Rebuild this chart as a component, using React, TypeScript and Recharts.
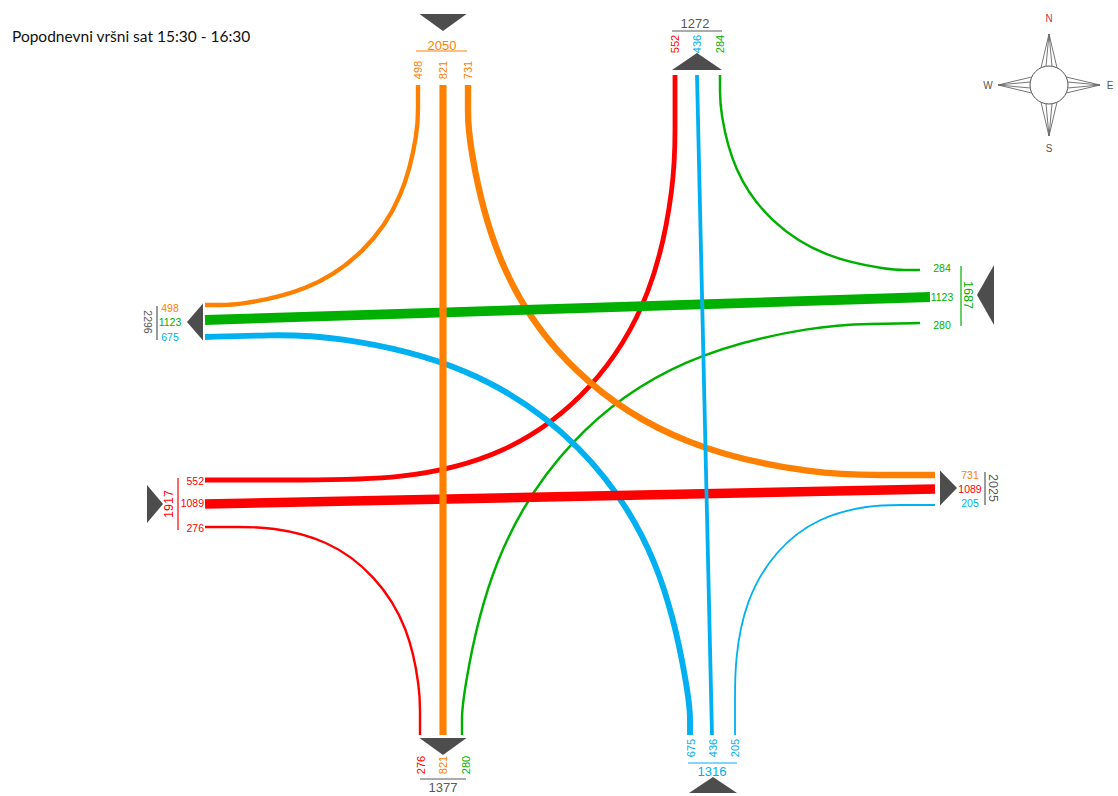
import { ComposedChart, Line, Scatter, XAxis, YAxis } from 'recharts';

// peak hour volumes per approach, lanes in the order they are drawn
const fromNorth = [498, 821, 731]; // to west, south, east
const fromWest = [552, 1089, 276]; // to north, east, south
const fromEast = [284, 1123, 280]; // to north, west, south
const fromSouth = [675, 436, 205]; // to west, north, east

const title = 'Popodnevni vršni sat 15:30 - 16:30';

const ORANGE = '#ff8000';
const RED = '#ff0000';
const GREEN = '#00b000';
const BLUE = '#00b0f0';
const GREY = '#595959';
const ARROW = '#4d4d4d';

const sum = (a: number[]) => a.reduce((s, v) => s + v, 0);

// control points of each movement (diagram px)
const pathNW = [[418, 85], [418, 110], [418, 130], [404, 197], [365, 254], [307, 292], [238, 305], [220, 305], [205, 305]];
const pathNS = [[443, 85], [443, 735]];
const pathNE = [[468, 85], [468, 110], [468, 140], [495, 268], [571, 377], [685, 449], [820, 475], [880, 475], [935, 475]];
const pathWN = [[205, 480], [300, 480], [400, 480], [505, 457], [594, 392], [654, 295], [675, 180], [675, 130], [675, 75]];
const pathWE = [[205, 504], [935, 489]];
const pathWS = [[205, 527], [240, 527], [270, 527], [327, 539], [376, 575], [409, 628], [420, 690], [420, 710], [420, 735]];
const pathEN = [[920, 270], [905, 270], [890, 270], [825, 258], [770, 223], [733, 171], [720, 110], [720, 90], [720, 75]];
const pathEW = [[930, 297], [205, 320]];
const pathES = [[920, 323], [870, 324], [820, 325], [683, 354], [567, 435], [489, 560], [462, 700], [462, 720], [462, 735]];
const pathSW = [[205, 337], [270, 335], [330, 335], [468, 363], [585, 442], [663, 560], [690, 700], [690, 720], [690, 735]];
const pathSN = [[712, 735], [697, 75]];
const pathSE = [[935, 505], [900, 505], [870, 505], [818, 517], [775, 550], [745, 601], [735, 660], [735, 700], [735, 735]];

const pts = (p: number[][]) => p.map(([x, y]) => ({ x, y }));

// drawing order: turns, then horizontal through lanes, then vertical through lanes on top
const flows = [
  { vol: fromWest[2], color: RED, path: pathWS, curve: 'basis' },
  { vol: fromSouth[2], color: BLUE, path: pathSE, curve: 'basis' },
  { vol: fromEast[0], color: GREEN, path: pathEN, curve: 'basis' },
  { vol: fromNorth[0], color: ORANGE, path: pathNW, curve: 'basis' },
  { vol: fromEast[2], color: GREEN, path: pathES, curve: 'basis' },
  { vol: fromWest[0], color: RED, path: pathWN, curve: 'basis' },
  { vol: fromSouth[0], color: BLUE, path: pathSW, curve: 'basis' },
  { vol: fromNorth[2], color: ORANGE, path: pathNE, curve: 'basis' },
  { vol: fromEast[1], color: GREEN, path: pathEW, curve: 'linear' },
  { vol: fromWest[1], color: RED, path: pathWE, curve: 'linear' },
  { vol: fromNorth[1], color: ORANGE, path: pathNS, curve: 'linear' },
  { vol: fromSouth[1], color: BLUE, path: pathSN, curve: 'linear' },
];

const width = (v: number) => Math.max(1.8, v / 115);

// lane labels
const laneLabels = [
  ...fromNorth.map((v, i) => ({ text: v, x: [418, 443, 468][i], y: 70, rot: -90, color: ORANGE, size: 11 })),
  ...[fromWest[0], fromSouth[1], fromEast[0]].map((v, i) => ({ text: v, x: [675, 697, 720][i], y: 44, rot: -90, color: [RED, BLUE, GREEN][i], size: 11 })),
  ...[fromNorth[0], fromEast[1], fromSouth[0]].map((v, i) => ({ text: v, x: 170, y: [308, 322, 337][i], rot: 0, color: [ORANGE, GREEN, BLUE][i], size: 10.5 })),
  ...fromWest.map((v, i) => ({ text: v, x: 204, y: [481, 503, 528][i], rot: 0, color: RED, size: 10.5, anchor: 'end' })),
  ...fromEast.map((v, i) => ({ text: v, x: 942, y: [268, 297, 325][i], rot: 0, color: GREEN, size: 10.5 })),
  ...[fromNorth[2], fromWest[1], fromSouth[2]].map((v, i) => ({ text: v, x: 970, y: [475, 489, 503][i], rot: 0, color: [ORANGE, RED, BLUE][i], size: 10.5 })),
  ...[fromWest[2], fromNorth[1], fromEast[2]].map((v, i) => ({ text: v, x: [421, 443, 466][i], y: 765, rot: -90, color: [RED, ORANGE, GREEN][i], size: 11 })),
  ...fromSouth.map((v, i) => ({ text: v, x: [691, 713, 735][i], y: 748, rot: -90, color: BLUE, size: 11 })),
];

// approach totals with their bars
const totals = [
  { text: sum(fromNorth), x: 442, y: 45, rot: 0, color: ORANGE, size: 13, bar: [[416, 51], [467, 51]] },
  { text: fromWest[0] + fromSouth[1] + fromEast[0], x: 695, y: 23, rot: 0, color: GREY, size: 13, bar: [[672, 31], [722, 31]] },
  { text: fromNorth[0] + fromEast[1] + fromSouth[0], x: 148, y: 322, rot: 90, color: GREY, size: 10.5, bar: [[157, 306], [157, 340]] },
  { text: sum(fromWest), x: 169, y: 504, rot: -90, color: RED, size: 12.5, bar: [[178, 478], [178, 530]] },
  { text: sum(fromEast), x: 968, y: 295, rot: 90, color: GREEN, size: 12.5, bar: [[961, 266], [961, 326]] },
  { text: fromNorth[2] + fromWest[1] + fromSouth[2], x: 993, y: 488, rot: 90, color: GREY, size: 12.5, bar: [[985, 472], [985, 505]] },
  { text: fromWest[2] + fromNorth[1] + fromEast[2], x: 443, y: 787, rot: 0, color: GREY, size: 13, bar: [[420, 779], [466, 779]] },
  { text: sum(fromSouth), x: 712, y: 771, rot: 0, color: BLUE, size: 13, bar: [[688, 763], [737, 763]] },
];

// arrow heads: tip point, direction, base length, depth
const arrows = [
  { x: 443, y: 31, dir: 'down', w: 47, h: 17 },
  { x: 697, y: 53, dir: 'up', w: 50, h: 17 },
  { x: 187, y: 322, dir: 'left', w: 37, h: 16 },
  { x: 977, y: 295, dir: 'left', w: 60, h: 17 },
  { x: 163, y: 504, dir: 'right', w: 38, h: 16 },
  { x: 957, y: 488, dir: 'right', w: 35, h: 17 },
  { x: 443, y: 755, dir: 'down', w: 47, h: 17 },
  { x: 713, y: 777, dir: 'up', w: 48, h: 16 },
];

const FONT = '"Liberation Sans", Arial, sans-serif';

const TextMark = (p: any) => {
  const d = p.payload;
  return (
    <text
      x={p.cx}
      y={p.cy}
      fill={d.color}
      fontSize={d.size}
      fontFamily={d.font ?? FONT}
      textAnchor={d.anchor ?? 'middle'}
      dominantBaseline={d.baseline ?? 'central'}
      transform={d.rot ? `rotate(${d.rot} ${p.cx} ${p.cy})` : undefined}
    >
      {d.text}
    </text>
  );
};

const ArrowMark = (p: any) => {
  const { dir, w, h } = p.payload;
  const { cx, cy } = p;
  let pts = '';
  if (dir === 'down') pts = `${cx},${cy} ${cx - w / 2},${cy - h} ${cx + w / 2},${cy - h}`;
  if (dir === 'up') pts = `${cx},${cy} ${cx - w / 2},${cy + h} ${cx + w / 2},${cy + h}`;
  if (dir === 'left') pts = `${cx},${cy} ${cx + h},${cy - w / 2} ${cx + h},${cy + w / 2}`;
  if (dir === 'right') pts = `${cx},${cy} ${cx - h},${cy - w / 2} ${cx - h},${cy + w / 2}`;
  return <polygon points={pts} fill={ARROW} />;
};

const CompassMark = (p: any) => {
  const { cx, cy } = p;
  const r = 19;
  const len = 51;
  const dirs = [[0, -1], [1, 0], [0, 1], [-1, 0]];
  const lines: any[] = [];
  dirs.forEach(([dx, dy], k) => {
    const tx = cx + dx * len;
    const ty = cy + dy * len;
    [-8, -3, 3, 8].forEach((o, j) => {
      const a = Math.sqrt(r * r - o * o);
      const bx = cx + dx * a - dy * o;
      const by = cy + dy * a + dx * o;
      lines.push(<line key={`${k}-${j}`} x1={tx} y1={ty} x2={bx} y2={by} stroke="#666" strokeWidth={0.9} />);
    });
  });
  return (
    <g>
      {lines}
      <circle cx={cx} cy={cy} r={r} fill="#fff" stroke="#555" strokeWidth={1} />
      <text x={cx} y={cy - 67} fill="#e0303a" fontSize={10} fontFamily={FONT} textAnchor="middle" dominantBaseline="central">N</text>
      <text x={cx} y={cy + 63} fill="#555" fontSize={10} fontFamily={FONT} textAnchor="middle" dominantBaseline="central">S</text>
      <text x={cx - 61} y={cy} fill="#555" fontSize={10} fontFamily={FONT} textAnchor="middle" dominantBaseline="central">W</text>
      <text x={cx + 61} y={cy} fill="#555" fontSize={10} fontFamily={FONT} textAnchor="middle" dominantBaseline="central">E</text>
    </g>
  );
};

const titleMark = [{ x: 12, y: 42, text: title, color: '#111', size: 15.5, anchor: 'start', baseline: 'alphabetic', font: 'Lato, "Open Sans", sans-serif' }];
const compassAt = [{ x: 1049, y: 85 }];

const App = () => (
  <div style={{ position: 'absolute', left: 0, top: 0, background: '#fff' }}>
    <ComposedChart width={1118} height={796} margin={{ top: 0, right: 0, bottom: 0, left: 0 }}>
      <XAxis type="number" dataKey="x" domain={[0, 1118]} allowDataOverflow hide />
      <YAxis type="number" dataKey="y" domain={[0, 796]} allowDataOverflow reversed hide />
      {flows.map((f, i) => (
        <Line
          key={`flow-${i}`}
          data={pts(f.path)}
          dataKey="y"
          type={f.curve as any}
          stroke={f.color}
          strokeWidth={width(f.vol)}
          dot={false}
          activeDot={false}
          isAnimationActive={false}
        />
      ))}
      {totals.map((t, i) => (
        <Line
          key={`bar-${i}`}
          data={pts(t.bar)}
          dataKey="y"
          type="linear"
          stroke={t.color}
          strokeWidth={1.2}
          dot={false}
          activeDot={false}
          isAnimationActive={false}
        />
      ))}
      <Scatter data={arrows} dataKey="y" shape={ArrowMark} isAnimationActive={false} />
      <Scatter data={laneLabels} dataKey="y" shape={TextMark} isAnimationActive={false} />
      <Scatter data={totals} dataKey="y" shape={TextMark} isAnimationActive={false} />
      <Scatter data={titleMark} dataKey="y" shape={TextMark} isAnimationActive={false} />
      <Scatter data={compassAt} dataKey="y" shape={CompassMark} isAnimationActive={false} />
    </ComposedChart>
  </div>
);

export default App;
